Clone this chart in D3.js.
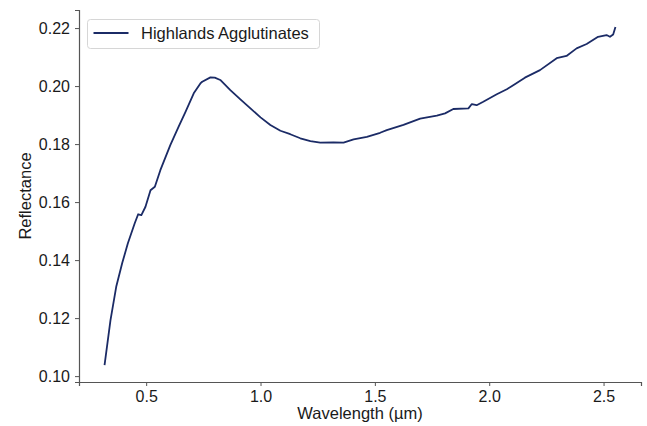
<!DOCTYPE html>
<html>
<head>
<meta charset="utf-8">
<script src="https://cdn.jsdelivr.net/npm/d3@7"></script>
<style>
  html, body { margin: 0; padding: 0; background: #fff; }
  svg { display: block; font-family: "Liberation Sans", Arial, sans-serif; }
</style>
</head>
<body>
<div id="chart"></div>
<script>
// spectrum
const wavelength = [0.318, 0.344, 0.369, 0.395, 0.420, 0.450, 0.465, 0.479, 0.497, 0.519,
  0.538, 0.562, 0.606, 0.642, 0.672, 0.708, 0.737, 0.745, 0.781, 0.800, 0.824, 0.868,
  0.912, 0.956, 1.000, 1.043, 1.087, 1.130, 1.174, 1.218, 1.261, 1.319, 1.363, 1.407,
  1.465, 1.523, 1.552, 1.625, 1.698, 1.771, 1.807, 1.843, 1.909, 1.924, 1.945, 1.974,
  2.033, 2.077, 2.105, 2.156, 2.222, 2.295, 2.338, 2.382, 2.426, 2.476, 2.513, 2.528,
  2.542, 2.552];
const reflectance = [0.1038, 0.1193, 0.1308, 0.1389, 0.1458, 0.1527, 0.1558, 0.1555, 0.1584, 0.1641,
  0.1653, 0.1710, 0.1797, 0.1860, 0.1911, 0.1975, 0.2009, 0.2015, 0.2030, 0.2029, 0.2021, 0.1986,
  0.1954, 0.1923, 0.1892, 0.1866, 0.1846, 0.1834, 0.1820, 0.1810, 0.1805, 0.1806, 0.1805, 0.1816,
  0.1825, 0.1839, 0.1848, 0.1866, 0.1888, 0.1898, 0.1906, 0.1921, 0.1923, 0.1938, 0.1934, 0.1946,
  0.1972, 0.1989, 0.2003, 0.2029, 0.2055, 0.2096, 0.2104, 0.2130, 0.2145, 0.2170, 0.2176, 0.2170,
  0.2178, 0.2204];
const seriesName = 'Highlands Agglutinates';
const xTicks = [0.5, 1.0, 1.5, 2.0, 2.5];
const yTicks = [0.10, 0.12, 0.14, 0.16, 0.18, 0.20, 0.22];

const width = 647, height = 426;
const margin = { left: 79, right: 6, top: 10, bottom: 44 };
const lineColor = '#1b2b66';
const axisColor = '#555';

const data = wavelength.map((w, i) => ({ x: w, y: reflectance[i] }));

// 5% padding like matplotlib's autoscale
function padded(ext) {
  const d = (ext[1] - ext[0]) * 0.05;
  return [ext[0] - d, ext[1] + d];
}

const x = d3.scaleLinear()
  .domain(padded(d3.extent(wavelength)))
  .range([margin.left, width - margin.right]);
const y = d3.scaleLinear()
  .domain(padded(d3.extent(reflectance)))
  .range([height - margin.bottom, margin.top]);

const svg = d3.select('#chart').append('svg')
  .attr('width', width)
  .attr('height', height);

// x axis
const gx = svg.append('g')
  .attr('transform', `translate(0,${height - margin.bottom})`)
  .call(d3.axisBottom(x).tickValues(xTicks).tickFormat(d3.format('.1f')).tickSizeOuter(0).tickSize(4).tickPadding(5));

// y axis
const gy = svg.append('g')
  .attr('transform', `translate(${margin.left},0)`)
  .call(d3.axisLeft(y).tickValues(yTicks).tickFormat(d3.format('.2f')).tickSizeOuter(0).tickSize(4).tickPadding(5));

[gx, gy].forEach(g => {
  g.select('.domain').attr('stroke', axisColor).attr('stroke-width', 1.2);
  g.selectAll('.tick line').attr('stroke', axisColor).attr('stroke-width', 1);
  g.selectAll('.tick text')
    .attr('fill', '#1a1a1a')
    .style('font-size', '16px')
    .style('font-family', '"Liberation Sans", Arial, sans-serif');
});

// axis labels
svg.append('text')
  .attr('x', (margin.left + width - margin.right) / 2)
  .attr('y', 419)
  .attr('text-anchor', 'middle')
  .attr('fill', '#1a1a1a')
  .style('font-size', '16.5px')
  .text('Wavelength (µm)');

svg.append('text')
  .attr('transform', `translate(31,${(margin.top + height - margin.bottom) / 2}) rotate(-90)`)
  .attr('text-anchor', 'middle')
  .attr('fill', '#1a1a1a')
  .style('font-size', '16.5px')
  .text('Reflectance');

// spectrum
const line = d3.line().x(d => x(d.x)).y(d => y(d.y));
svg.append('path')
  .datum(data)
  .attr('fill', 'none')
  .attr('stroke', lineColor)
  .attr('stroke-width', 1.8)
  .attr('stroke-linejoin', 'round')
  .attr('d', line);

// legend
const lg = svg.append('g').attr('transform', 'translate(87.5,19.5)');
lg.append('rect')
  .attr('width', 232)
  .attr('height', 29)
  .attr('rx', 3)
  .attr('fill', '#fff')
  .attr('stroke', '#d6d6d6')
  .attr('stroke-width', 1);
lg.append('line')
  .attr('x1', 6).attr('x2', 41)
  .attr('y1', 13.5).attr('y2', 13.5)
  .attr('stroke', lineColor)
  .attr('stroke-width', 1.8);
lg.append('text')
  .attr('x', 53.5)
  .attr('y', 19)
  .attr('fill', '#1a1a1a')
  .style('font-size', '16.5px')
  .text(seriesName);
</script>
</body>
</html>
